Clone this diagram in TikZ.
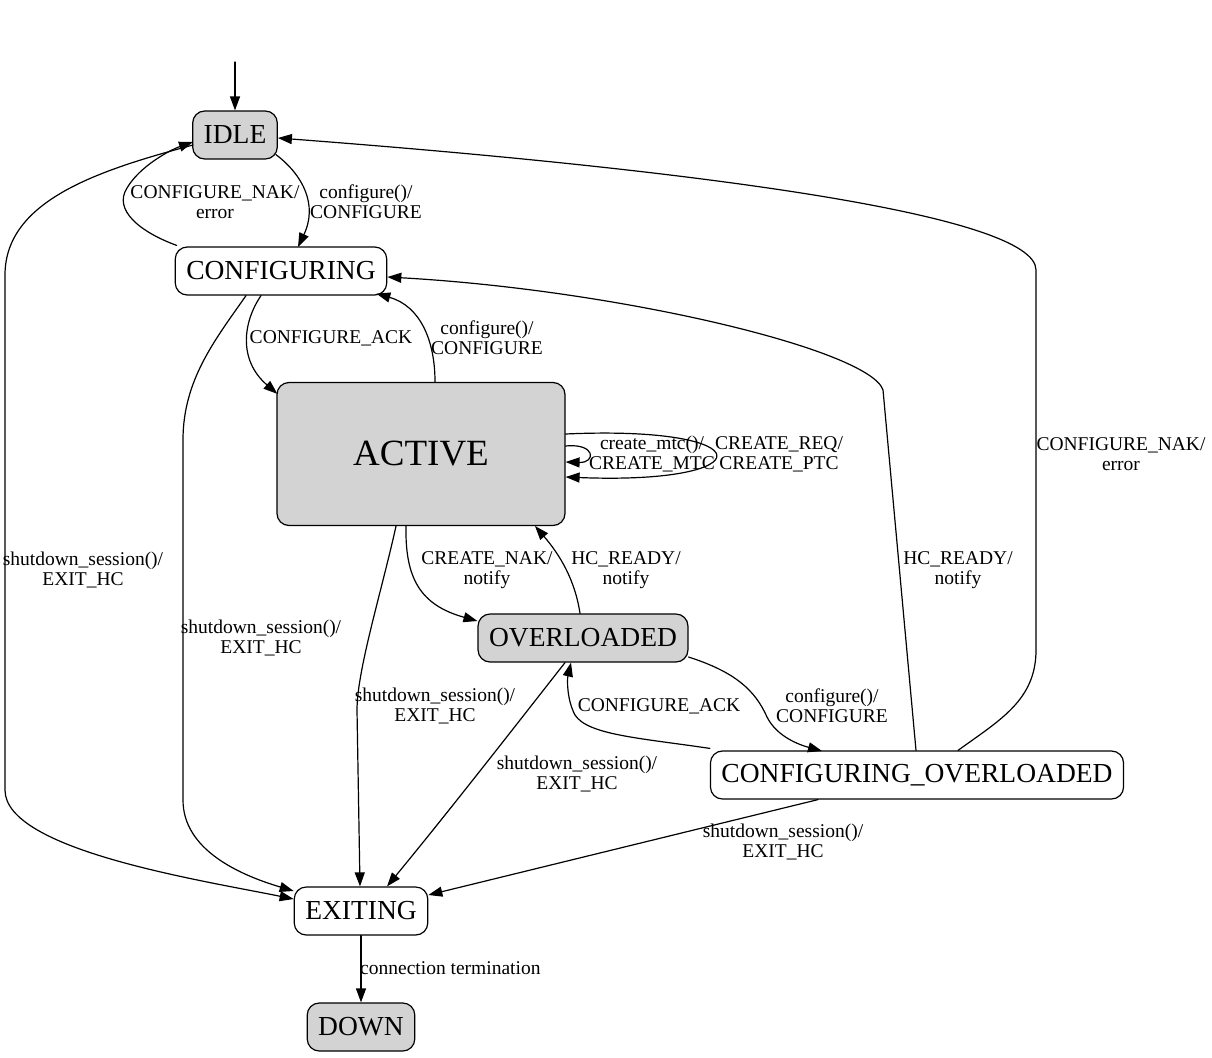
\documentclass[tikz,border=0pt]{standalone}
\usepackage{fontspec}
\setmainfont{Liberation Serif}
\usetikzlibrary{arrows.meta}
\definecolor{busy}{HTML}{D3D3D3}
\tikzset{
  every picture/.style={line join=round, line cap=round, >={Triangle[length=14pt,width=10pt]}},
  state/.style={draw, line width=1.2pt, rounded corners=12pt, minimum height=48pt, inner xsep=11pt,
    font=\fontsize{27.5}{30}\selectfont},
  loaded/.style={fill=busy},
  edge/.style={->, line width=1.2pt},
  lbl/.style={align=center, inner sep=0pt, font=\fontsize{19.5}{20}\selectfont},
}

\begin{document}
\begin{tikzpicture}[x=1pt,y=-1pt]
\useasboundingbox (0,0) rectangle (1212,1057);
% states
\node[state,loaded] (idle) at (235,135) {IDLE};
\node[state] (cfg) at (281,271) {CONFIGURING};
\node[state,loaded,minimum width=288pt,minimum height=143pt,font=\fontsize{37}{40}\selectfont] (active) at (421,454) {ACTIVE};
\node[state,loaded] (over) at (583,638) {OVERLOADED};
\node[state] (cfgover) at (917,775) {CONFIGURING\_OVERLOADED};
\node[state] (exiting) at (361,911) {EXITING};
\node[state,loaded] (down) at (361,1027) {DOWN};
\coordinate (start) at (235,62);
% transitions
\draw[edge] (start) -- (idle);
\draw[edge] ([shift={(-2,-5)}]idle.south east) .. controls (303,175) and (318,205) .. (298,247);
\node[lbl] (l1) at (366,202) {configure()/\\CONFIGURE};
\draw[edge] ([shift={(2,-1)}]cfg.north west) .. controls (140,232) and (113,210) .. (127,188) .. controls (140,166) and (170,150) .. (193,142);
\node[lbl] (l2) at (215,202) {CONFIGURE\_NAK/\\error};
\draw[edge] (193,145) .. controls (100,170) and (5,200) .. (5,275) -- (5,790) .. controls (5,850) and (200,880) .. (exiting.west|-0,899);
\node[lbl] (l3) at (83,570) {shutdown\_session()/\\EXIT\_HC};
\draw[edge] ([xshift=-20pt]cfg.south) .. controls (243,322) and (238,360) .. ([shift={(1,12)}]active.north west);
\node[lbl] (l4) at (331,338) {CONFIGURE\_ACK};
\draw[edge] ([xshift=14pt]active.north) .. controls (435,340) and (420,306) .. ([shift={(-11,-2)}]cfg.south east);
\node[lbl] (l5) at (487,338) {configure()/\\CONFIGURE};
\draw[edge] ([xshift=-35pt]cfg.south) .. controls (215,340) and (183,380) .. (183,440) -- (183,800) .. controls (183,850) and (240,875) .. ([yshift=20pt]exiting.west);
\node[lbl] (l6) at (261,638) {shutdown\_session()/\\EXIT\_HC};
\draw[edge] (active.east|-0,446) .. controls (596,443) and (596,463) .. (active.east|-0,462);
\node[lbl] (l7) at (652,454) {create\_mtc()/\\CREATE\_MTC};
\draw[edge] (active.east|-0,434) .. controls (765,425) and (765,485) .. (active.east|-0,477);
\node[lbl] (l8) at (779,454) {CREATE\_REQ/\\CREATE\_PTC};
\draw[edge] ([xshift=-15pt]active.south) .. controls (405,578) and (420,605) .. ([yshift=17pt]over.west);
\node[lbl] (l9) at (487,570) {CREATE\_NAK/\\notify};
\draw[edge] ([xshift=-3pt]over.north) .. controls (575,580) and (560,555) .. (535,526);
\node[lbl] (l10) at (626,570) {HC\_READY/\\notify};
\draw[edge] ([xshift=-25pt]active.south) .. controls (382,590) and (357,670) .. (357,710) -- ([xshift=-1pt]exiting.north);
\node[lbl] (l11) at (435,706) {shutdown\_session()/\\EXIT\_HC};
\draw[edge] ([yshift=-19pt]over.east) .. controls (735,672) and (755,690) .. (767,717) .. controls (777,737) and (800,745) .. (822,751);
\node[lbl] (l12) at (832,706) {configure()/\\CONFIGURE};
\draw[edge] ([shift={(0,-2)}]cfgover.north west) .. controls (640,738) and (588,735) .. (575,715) .. controls (567,700) and (567,680) .. ([xshift=-12pt]over.south);
\node[lbl] (l13) at (659,706) {CONFIGURE\_ACK};
\draw[edge] ([xshift=-18pt]over.south) .. controls (520,720) and (450,810) .. ([xshift=26pt]exiting.north);
\node[lbl] (l14) at (577,774) {shutdown\_session()/\\EXIT\_HC};
\draw[edge] ([xshift=-1pt]cfgover.north) -- (883,390) .. controls (870,350) and (620,290) .. ([yshift=-6pt]cfg.east);
\node[lbl] (l15) at (958,570) {HC\_READY/\\notify};
\draw[edge] ([xshift=41pt]cfgover.north) .. controls (1000,720) and (1036,700) .. (1036,650) -- (1036,270) .. controls (1036,215) and (700,170) .. ([yshift=-3pt]idle.east);
\node[lbl] (l16) at (1121,454) {CONFIGURE\_NAK/\\error};
\draw[edge] ([xshift=-99pt]cfgover.south) -- ([yshift=16pt]exiting.east);
\node[lbl] (l17) at (783,842) {shutdown\_session()/\\EXIT\_HC};
\draw[edge] (exiting) -- (down);
\node[lbl,anchor=west] (l18) at (360,968) {connection termination};
\end{tikzpicture}
\end{document}
